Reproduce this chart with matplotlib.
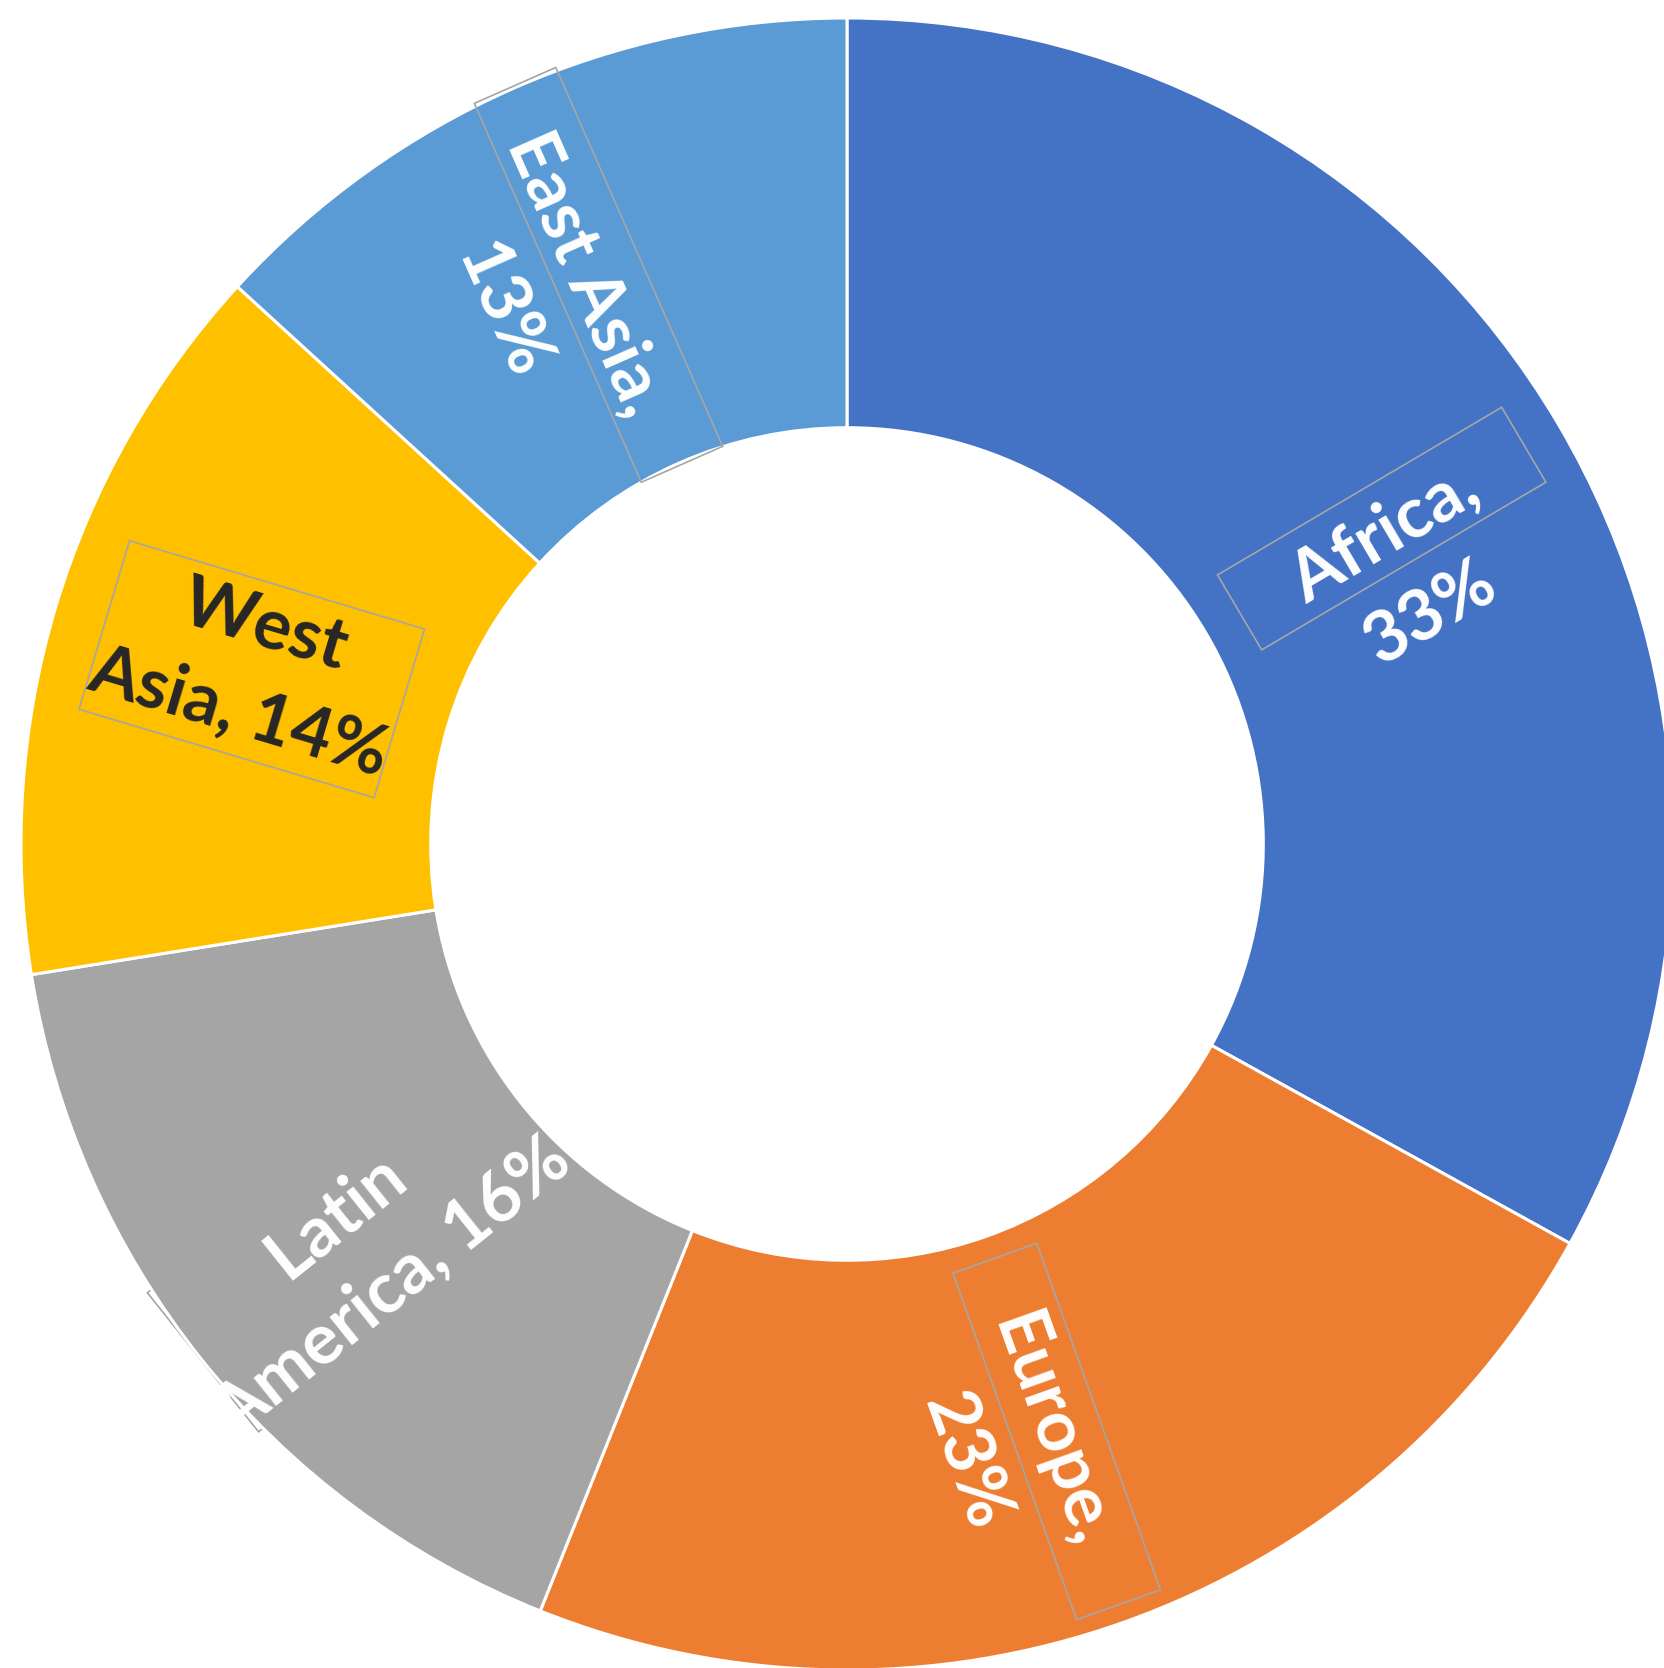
import numpy as np
import matplotlib
matplotlib.use("Agg")
import matplotlib.pyplot as plt
from matplotlib.patches import Rectangle
from matplotlib.transforms import Affine2D

# ---- data ----
regions = ["Africa", "Europe", "Latin America", "West Asia", "East Asia"]
values = [33.0, 23.0, 16.4, 14.3, 13.2]
label_text = ["Africa,\n{p}%", "Europe,\n{p}%", "Latin\nAmerica, {p}%", "West\nAsia, {p}%", "East Asia,\n{p}%"]
colors = ["#4472C4", "#ED7D31", "#A5A5A5", "#FFC000", "#5B9BD5"]
text_colors = ["white", "white", "white", "#262626", "white"]

# ---- layout (pixels of a 1665x1668 canvas) ----
W, H = 1665, 1668
CX, CY, R = 847, 844, 826          # centre (from top-left) and radius in px
label_r = [0.753, 0.754, 0.765, 0.751, 0.762]
angle_nudge = [-4.8, -4.6, 1.5, 0.3, 5.0]
# label box: (along, perp-down offset px, width px, height px, on top)
boxes = [(1, -52, 330, 87, True),
         (3, -50, 368, 89, True),
         (0, -14, 390, 178, False),
         (0, 0, 308, 176, True),
         (6, -57, 414, 89, True)]

fig = plt.figure(figsize=(W / 100, H / 100), dpi=100)
ax = fig.add_axes([0, 0, 1, 1])
wedges, _ = ax.pie(values, radius=1.0, startangle=90, counterclock=False,
                   colors=colors,
                   wedgeprops=dict(width=0.496, edgecolor="white", linewidth=2.2))
for w in wedges:
    w.set_zorder(2)

total = sum(values)
for i, w in enumerate(wedges):
    mid = (w.theta1 + w.theta2) / 2.0
    ang = np.deg2rad(mid + angle_nudge[i])
    x, y = label_r[i] * np.cos(ang), label_r[i] * np.sin(ang)
    rot = mid
    while rot > 90:
        rot -= 180
    while rot < -90:
        rot += 180
    pct = int(round(values[i] / total * 100))
    ax.text(x, y, label_text[i].format(p=pct), rotation=rot, rotation_mode="anchor",
            ha="center", va="center", multialignment="center",
            color=text_colors[i], fontsize=51, fontweight="bold", family="Lato",
            linespacing=1.5, zorder=5)
    a, p, bw, bh, top = boxes[i]
    tr = Affine2D().translate(a / R - bw / R / 2, -p / R - bh / R / 2).rotate_deg(rot).translate(x, y) + ax.transData
    rect = Rectangle((0, 0), bw / R, bh / R, fill=False, edgecolor="#A6A6A6",
                     linewidth=1.2, transform=tr, zorder=4 if top else 1)
    ax.add_patch(rect)

ax.set_xlim(-CX / R, (W - CX) / R)
ax.set_ylim(-(H - CY) / R, CY / R)
ax.set_aspect("auto")
ax.axis("off")
fig.savefig("out.png", dpi=100, facecolor="white")
